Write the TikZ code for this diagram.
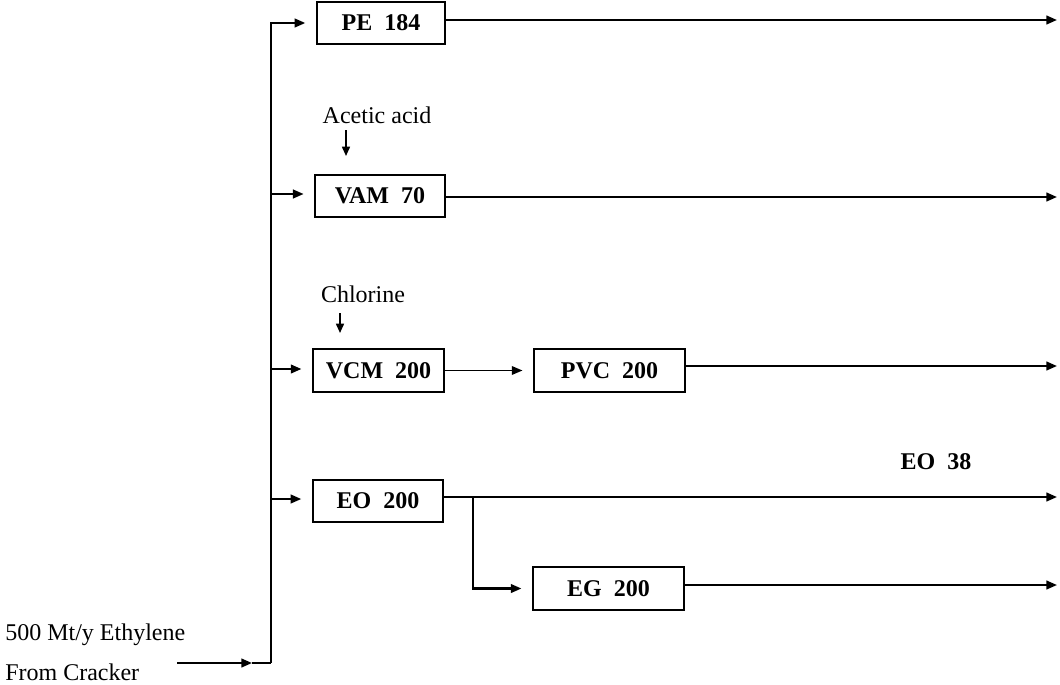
\documentclass[tikz,border=0pt]{standalone}
\usepackage{fontspec}
\setmainfont{Liberation Serif}
\usetikzlibrary{arrows.meta}
\begin{document}
\begin{tikzpicture}[x=0.75pt,y=-0.75pt,
  box/.style={draw,line width=1.6pt,inner sep=0pt,minimum height=32pt,font=\fontsize{18}{20}\selectfont\bfseries},
  lbl/.style={inner sep=0pt,font=\fontsize{18}{20}\selectfont},
  pipe/.style={line width=1.6pt},
  flow/.style={line width=1.6pt,-{Triangle[length=8pt,width=6.5pt]}},
  thin flow/.style={line width=1.1pt,-{Triangle[length=8pt,width=6.5pt]}},
  feed/.style={line width=1.2pt,-{Triangle[length=7pt,width=6pt]}},
  gap/.style={shorten >=8pt}]
\useasboundingbox (0,0) rectangle (1060,685);

% boxes
\node[box,minimum width=96pt] (PE) at (381,23) {PE\ \ 184};
\node[box,minimum width=97pt] (VAM) at (380,196) {VAM\ \ 70};
\node[box,minimum width=98pt] (VCM) at (378.5,370.5) {VCM\ \ 200};
\node[box,minimum width=113pt] (PVC) at (609.5,370.5) {PVC\ \ 200};
\node[box,minimum width=97.5pt] (EO) at (378,501) {EO\ \ 200};
\node[box,minimum width=113pt] (EG) at (608.5,588.5) {EG\ \ 200};

% labels
\node[lbl,anchor=west] (eth) at (5,635) {500 Mt/y Ethylene};
\node[lbl,anchor=west] (crk) at (5,672) {From Cracker};
\node[lbl] (ac) at (377,115) {Acetic acid};
\node[lbl] (cl) at (363,294) {Chlorine};
\node[lbl,font=\fontsize{18}{20}\selectfont\bfseries] (eo38) at (936,462) {EO\ \ 38};

% coordinates
\coordinate (inS) at (177,663);
\coordinate (inA) at (252,663);
\coordinate (spB) at (271,663);
\coordinate (jVAM) at (271,194);
\coordinate (jVCM) at (271,369);
\coordinate (jEO) at (271,499);
\coordinate (acT) at (346,130);
\coordinate (acB) at (346,156);
\coordinate (clT) at (340,313);
\coordinate (clB) at (340,333);
\coordinate (oPE) at (1057,20);
\coordinate (oVAM) at (1057,197);
\coordinate (oPVC) at (1057,366);
\coordinate (oEO) at (1057,497);
\coordinate (oEG) at (1057,585);
\coordinate (eoS) at (443,497);
\coordinate (br) at (473,497);

% ethylene feed and header
\draw[flow] (inS) -- (inA);
\draw[pipe] (inA) -- (spB);
\draw[flow,gap] (spB) |- (PE.west);
\draw[flow,gap] (jVAM) -- (jVAM -| VAM.west);
\draw[flow,gap] (jVCM) -- (jVCM -| VCM.west);
\draw[flow,gap] (jEO) -- (jEO -| EO.west);

% reactant feeds
\draw[feed] (acT) -- (acB);
\draw[feed] (clT) -- (clB);

% product lines
\draw[flow] (PE.east |- oPE) -- (oPE);
\draw[flow] (VAM.east |- oVAM) -- (oVAM);
\draw[thin flow,gap] (VCM.east) -- (PVC.west);
\draw[flow] (PVC.east |- oPVC) -- (oPVC);
\draw[flow] (eoS) -- (oEO);
\draw[flow,gap] (br) |- (EG.west);
\draw[flow] (EG.east |- oEG) -- (oEG);
\end{tikzpicture}
\end{document}
